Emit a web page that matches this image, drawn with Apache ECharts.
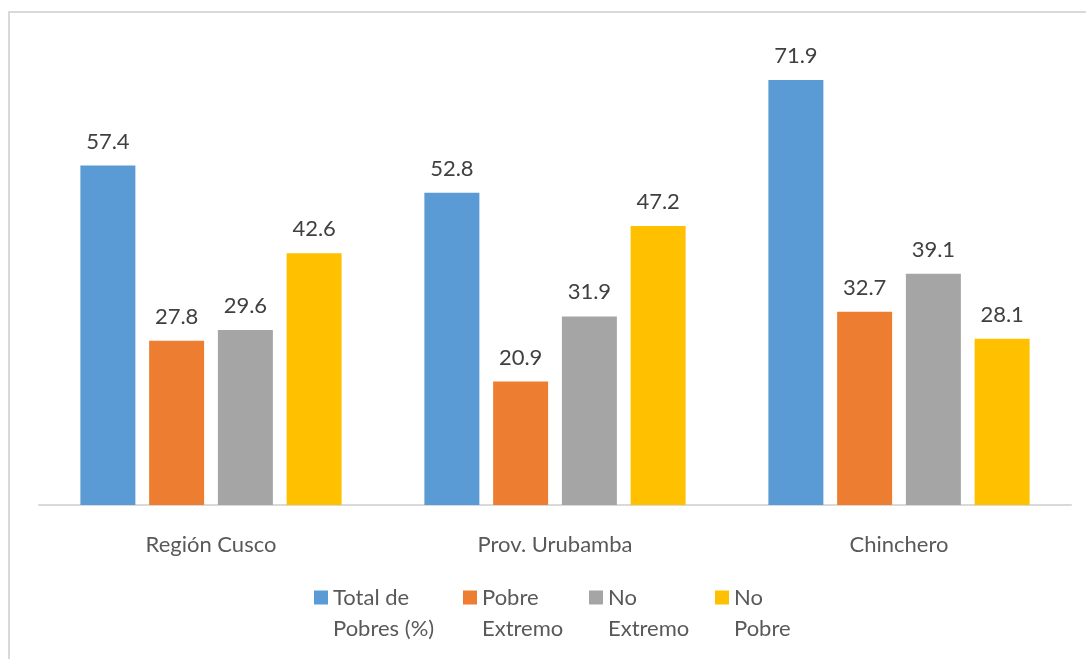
<!DOCTYPE html>
<html>
<head>
<meta charset="utf-8">
<script src="https://cdn.jsdelivr.net/npm/echarts@6/dist/echarts.min.js"></script>
<style>
  html, body { margin: 0; padding: 0; background: #ffffff; }
  #chart { width: 1086px; height: 659px; }
</style>
</head>
<body>
<div id="chart"></div>
<script>
// Poverty levels by area (%)
const categories = ['Región Cusco', 'Prov. Urubamba', 'Chinchero'];
const seriesNames = ['Total de Pobres (%)', 'Pobre Extremo', 'No Extremo', 'No Pobre'];
const legendLabels = ['Total de\nPobres (%)', 'Pobre\nExtremo', 'No\nExtremo', 'No\nPobre'];
const totalPobres = [57.4, 52.8, 71.9];
const pobreExtremo = [27.8, 20.9, 32.7];
const noExtremo = [29.6, 31.9, 39.1];
const noPobre = [42.6, 47.2, 28.1];

const values = [totalPobres, pobreExtremo, noExtremo, noPobre];
const colors = ['#5b9bd5', '#ed7d31', '#a5a5a5', '#ffc000'];
const legendTextWidths = [130, 107, 107, 80];
const FONT = 'Lato, "Open Sans", sans-serif';

// Legend swatch: a 14px square at the top of a 14x45 box, so that it
// lines up with the first line of the two-line legend text.
const SWATCH = 'path://M0,0H14V14H0Z M14,45';

const chart = echarts.init(document.getElementById('chart'));
chart.setOption({
  animation: false,
  textStyle: { fontFamily: FONT },
  graphic: [{
    type: 'rect',
    shape: { x: 9, y: 12, width: 1200, height: 800 },
    style: { fill: 'none', stroke: '#d9d9d9', lineWidth: 2 },
    silent: true
  }],
  grid: { left: 39, right: 15, top: 32, bottom: 154 },
  legend: {
    left: 309,
    top: 577,
    itemWidth: 14,
    itemHeight: 45,
    itemGap: 0,
    icon: SWATCH,
    data: seriesNames.map((n, i) => ({
      name: n,
      textStyle: { width: legendTextWidths[i] }
    })),
    formatter: name => legendLabels[seriesNames.indexOf(name)],
    textStyle: {
      color: '#595959',
      fontSize: 22,
      fontFamily: FONT,
      lineHeight: 31
    }
  },
  xAxis: {
    type: 'category',
    data: categories,
    axisLine: { lineStyle: { color: '#d9d9d9', width: 2 } },
    axisTick: { show: false },
    axisLabel: { color: '#595959', fontSize: 22, margin: 29, fontFamily: FONT }
  },
  yAxis: {
    type: 'value',
    min: 0,
    max: 80,
    show: false,
    splitLine: { show: false }
  },
  series: seriesNames.map((n, i) => ({
    name: n,
    type: 'bar',
    data: values[i],
    barWidth: 55,
    barGap: '25%',
    itemStyle: { color: colors[i] },
    label: {
      show: true,
      position: 'top',
      distance: 13,
      color: '#404040',
      fontSize: 22,
      fontFamily: FONT,
      formatter: p => p.value.toFixed(1)
    }
  }))
});
</script>
</body>
</html>
